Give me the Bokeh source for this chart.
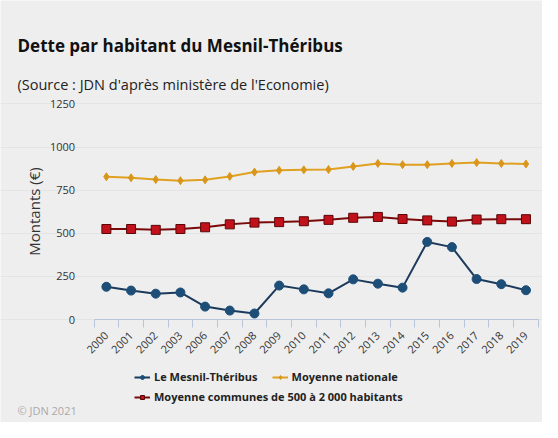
import math
from bokeh.plotting import figure
from bokeh.models import Legend, LegendItem, FixedTicker, Range1d, Label
from bokeh.embed import file_html
from bokeh.resources import INLINE

years = ["2000", "2001", "2002", "2003", "2006", "2007", "2008", "2009", "2010",
         "2011", "2012", "2013", "2014", "2015", "2016", "2017", "2018", "2019"]
mesnil = [190, 168, 150, 157, 75, 52, 35, 197, 175, 152, 233, 208, 185, 450, 420, 235, 205, 170]
nationale = [828, 822, 812, 805, 810, 830, 855, 865, 868, 870, 888, 905, 898, 898, 905, 910, 905, 902]
communes = [525, 525, 520, 525, 535, 552, 562, 565, 570, 578, 590, 595, 583, 575, 568, 580, 582, 582]
y_ticks = [0, 250, 500, 750, 1000, 1250]

n = len(years)
xs = list(range(n))

BG = "#eeeeee"
FONT = "Open Sans"

p = figure(frame_width=542, frame_height=422,
           x_range=Range1d(-4.29, 17.67), y_range=Range1d(-597, 1850),
           output_backend="svg", toolbar_location=None,
           background_fill_color=BG, border_fill_color=BG,
           min_border_left=0, min_border_right=0, min_border_top=0, min_border_bottom=0,
           outline_line_color=None)

p.add_layout(Label(x=17, y=377, x_units="screen", y_units="screen",
                   text="Dette par habitant du Mesnil-Théribus", text_font=FONT,
                   text_font_size="17px", text_font_style="bold", text_color="#111111",
                   text_baseline="middle", text_align="left"), "center")
p.add_layout(Label(x=17, y=338, x_units="screen", y_units="screen",
                   text="(Source : JDN d'après ministère de l'Economie)", text_font=FONT,
                   text_font_size="14.5px", text_color="#222222",
                   text_baseline="middle", text_align="left"), "center")

l_m = p.line(xs, mesnil, line_color="#1b3a5c", line_width=2)
s_m = p.scatter(xs, mesnil, marker="circle", size=9, fill_color="#1d4e78", line_color="#1d4e78")
l_n = p.line(xs, nationale, line_color="#e0a020", line_width=2)
s_n = p.scatter(xs, nationale, marker="diamond", size=8, fill_color="#d9961a", line_color="#d9961a")
l_c = p.line(xs, communes, line_color="#7a0a0a", line_width=2)
s_c = p.scatter(xs, communes, marker="square", size=9, fill_color="#c1121c", line_color="#5a0606")

# y axis drawn inside the frame at the left edge of the first category
p.yaxis.fixed_location = -0.5
p.yaxis.bounds = (0, 1250)
p.yaxis.ticker = FixedTicker(ticks=y_ticks)
p.yaxis.axis_line_color = None
p.yaxis.major_tick_line_color = None
p.yaxis.minor_tick_line_color = None
p.yaxis.major_label_text_font = FONT
p.yaxis.major_label_text_font_size = "11px"
p.yaxis.major_label_text_color = "#333333"
p.yaxis.major_label_standoff = 13
p.yaxis.axis_label = "Montants (€)"
p.yaxis.axis_label_text_font = FONT
p.yaxis.axis_label_text_font_size = "15px"
p.yaxis.axis_label_text_font_style = "normal"
p.yaxis.axis_label_text_color = "#333333"
p.yaxis.axis_label_standoff = 3

# x axis drawn at y = 0, ticks at category boundaries
p.xaxis.fixed_location = 0
p.xaxis.bounds = (-0.5, n - 0.5)
p.xaxis.ticker = FixedTicker(ticks=xs, minor_ticks=[i - 0.5 for i in range(n + 1)])
p.xaxis.major_label_overrides = {i: y for i, y in enumerate(years)}
p.xaxis.axis_line_color = "#b8c4d8"
p.xaxis.major_tick_line_color = None
p.xaxis.minor_tick_line_color = "#b8c4d8"
p.xaxis.minor_tick_out = 8
p.xaxis.minor_tick_in = 0
p.xaxis.major_label_orientation = math.pi / 4
p.xaxis.major_label_text_font = FONT
p.xaxis.major_label_text_font_size = "11px"
p.xaxis.major_label_text_color = "#333333"
p.xaxis.major_label_standoff = 6

p.xgrid.grid_line_color = None
p.ygrid.grid_line_color = "#e4e4e4"
p.ygrid.bounds = (-0.5, n - 0.5)

common = dict(orientation="horizontal", background_fill_alpha=0,
              border_line_color=None, label_text_font=FONT, label_text_font_size="11px",
              label_text_font_style="bold", label_text_color="#222222",
              glyph_width=16, glyph_height=10, label_standoff=4, spacing=14,
              padding=0, margin=0, label_height=12)
leg1 = Legend(items=[LegendItem(label="Le Mesnil-Théribus", renderers=[l_m, s_m]),
                     LegendItem(label="Moyenne nationale", renderers=[l_n, s_n])],
              location=(134, 38), **common)
leg2 = Legend(items=[LegendItem(label="Moyenne communes de 500 à 2 000 habitants",
                                renderers=[l_c, s_c])],
              location=(134, 18), **common)
p.add_layout(leg1, "center")
p.add_layout(leg2, "center")

p.add_layout(Label(x=17, y=12, x_units="screen", y_units="screen", text="© JDN 2021",
                   text_font=FONT, text_font_size="11px", text_color="#aaaaaa",
                   text_baseline="middle", text_align="left"), "center")

open("out.html", "w").write(file_html(p, INLINE))
